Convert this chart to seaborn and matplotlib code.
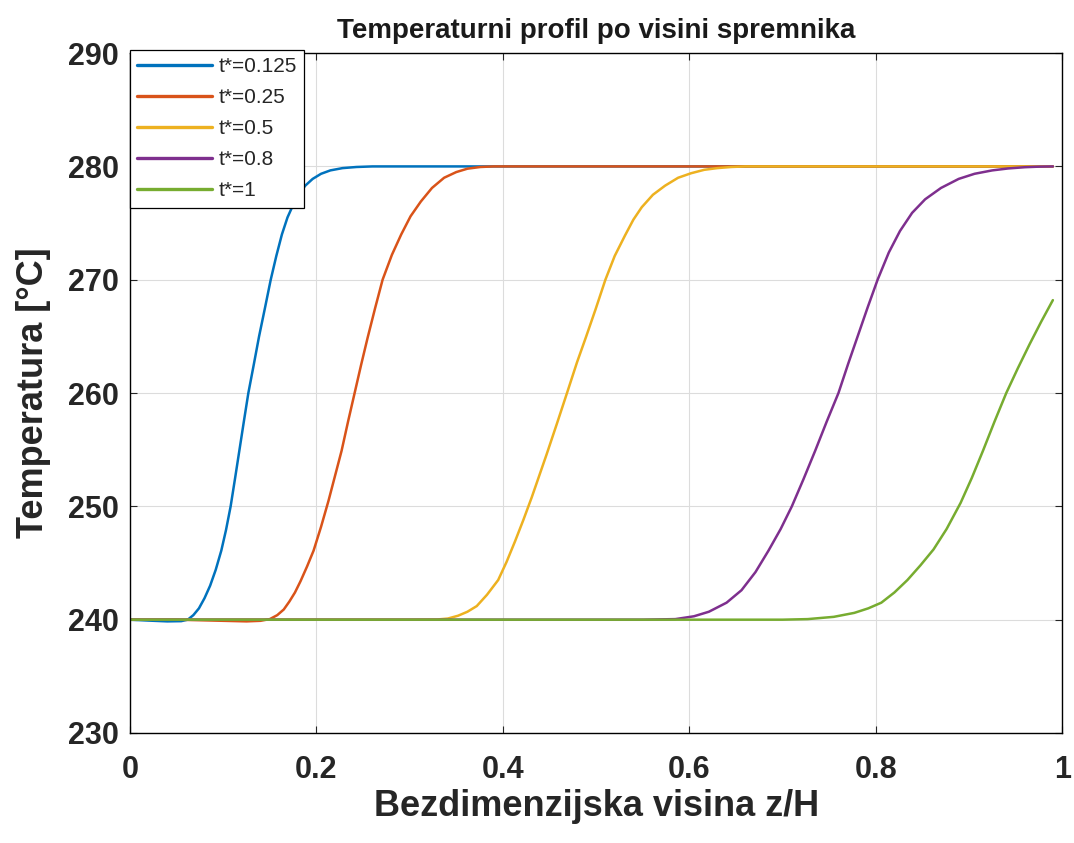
import numpy as np
import pandas as pd
import matplotlib
matplotlib.use("Agg")
import matplotlib.pyplot as plt
import seaborn as sns

# values
x_0125 = [0, 0.02, 0.04, 0.055, 0.062, 0.068, 0.074, 0.08, 0.086, 0.092, 0.098, 0.103,
          0.108, 0.1128, 0.1175, 0.1222, 0.127, 0.1328, 0.1385, 0.1448, 0.151, 0.157, 0.163,
          0.169, 0.175, 0.181, 0.188, 0.196, 0.205, 0.215, 0.228, 0.243, 0.26, 0.3, 0.99]
T_0125 = [240, 239.92, 239.85, 239.87, 240.0, 240.4, 241.0, 241.9, 243.0, 244.4, 246.1, 247.9,
          250, 252.5, 255, 257.5, 260, 262.5, 265, 267.5, 270, 272.1, 274,
          275.5, 276.6, 277.5, 278.3, 278.9, 279.35, 279.65, 279.85, 279.95, 280, 280, 280]

x_025 = [0, 0.05, 0.1, 0.125, 0.14, 0.15, 0.158, 0.165, 0.171, 0.177, 0.183, 0.19, 0.197,
         0.205, 0.213, 0.22, 0.227, 0.234, 0.241, 0.248, 0.255, 0.263, 0.271, 0.281, 0.291,
         0.301, 0.312, 0.324, 0.337, 0.35, 0.362, 0.376, 0.39, 0.45, 0.99]
T_025 = [240, 240, 239.9, 239.85, 239.9, 240.05, 240.4, 240.9, 241.6, 242.4, 243.4, 244.7, 246.1,
         248.2, 250.5, 252.7, 254.9, 257.5, 260, 262.5, 264.9, 267.5, 270, 272.2, 274,
         275.6, 276.9, 278.1, 279, 279.5, 279.8, 279.95, 280, 280, 280]

x_05 = [0, 0.3, 0.33, 0.341, 0.352, 0.362, 0.372, 0.383, 0.395, 0.404, 0.413, 0.422, 0.431,
        0.439, 0.447, 0.458, 0.47, 0.4795, 0.489, 0.4995, 0.51, 0.52, 0.531, 0.54, 0.549,
        0.561, 0.574, 0.588, 0.602, 0.616, 0.63, 0.645, 0.66, 0.99]
T_05 = [240, 240, 240.02, 240.1, 240.35, 240.7, 241.2, 242.2, 243.5, 245.1, 246.9, 248.8, 250.8,
        252.7, 254.6, 257.3, 260.3, 262.7, 264.9, 267.4, 270, 272.1, 273.9, 275.3, 276.4,
        277.5, 278.3, 279.0, 279.4, 279.7, 279.85, 279.95, 280, 280]

x_08 = [0, 0.55, 0.585, 0.605, 0.621, 0.64, 0.656, 0.671, 0.685, 0.698, 0.71, 0.7225, 0.735,
        0.7475, 0.76, 0.7705, 0.781, 0.7915, 0.802, 0.814, 0.826, 0.839, 0.853, 0.87, 0.889,
        0.906, 0.925, 0.942, 0.96, 0.975, 0.99]
T_08 = [240, 240, 240.05, 240.3, 240.7, 241.5, 242.6, 244.2, 246.1, 248.0, 250, 252.4, 254.9,
        257.5, 260, 262.6, 265.1, 267.6, 270, 272.4, 274.3, 275.9, 277.1, 278.1, 278.9,
        279.35, 279.65, 279.82, 279.93, 279.98, 280]

x_1 = [0, 0.7, 0.727, 0.755, 0.777, 0.792, 0.806, 0.82, 0.834, 0.848, 0.862, 0.876, 0.891,
       0.903, 0.915, 0.9275, 0.94, 0.9525, 0.965, 0.9775, 0.99]
T_1 = [240, 240, 240.05, 240.25, 240.6, 241.0, 241.5, 242.4, 243.5, 244.8, 246.2, 248.0, 250.3,
       252.5, 254.9, 257.5, 260, 262.2, 264.3, 266.3, 268.2]

labels = ["t*=0.125", "t*=0.25", "t*=0.5", "t*=0.8", "t*=1"]
colors = ["#0072BD", "#D95319", "#EDB120", "#7E2F8E", "#77AC30"]

series = [(x_0125, T_0125), (x_025, T_025), (x_05, T_05), (x_08, T_08), (x_1, T_1)]
frames = []
for lab, (xs, ts) in zip(labels, series):
    frames.append(pd.DataFrame({"z": xs, "T": ts, "t": lab}))
df = pd.concat(frames, ignore_index=True)

sns.set_theme(style="whitegrid")
plt.rcParams["font.family"] = ["Liberation Sans", "DejaVu Sans"]

fig = plt.figure(figsize=(10.74, 8.43), dpi=100)
ax = fig.add_axes([0.121, 0.1305, 0.868, 0.8065])

sns.lineplot(data=df, x="z", y="T", hue="t", hue_order=labels, palette=colors,
             estimator=None, sort=False, linewidth=1.8, ax=ax)

ax.set_xlim(0, 1)
ax.set_ylim(230, 290)
ax.set_xticks([0, 0.2, 0.4, 0.6, 0.8, 1])
ax.set_xticklabels(["0", "0.2", "0.4", "0.6", "0.8", "1"])
ax.set_yticks(range(230, 291, 10))

ax.grid(True, color="#dcdcdc", linewidth=0.8)
ax.set_facecolor("white")
for s in ax.spines.values():
    s.set_color("black")
    s.set_linewidth(1.0)

ax.tick_params(axis="both", which="both", direction="in", length=5, width=0.8,
               color="#262626", top=True, right=True, bottom=True, left=True,
               labelsize=22)
ax.tick_params(axis="x", pad=16)
ax.tick_params(axis="y", pad=8)
for lbl in ax.get_xticklabels() + ax.get_yticklabels():
    lbl.set_fontweight("bold")
    lbl.set_color("#262626")

ax.set_xlabel("Bezdimenzijska visina z/H", fontsize=26, fontweight="bold",
              color="#262626", labelpad=3)
ax.set_ylabel("Temperatura [°C]", fontsize=26, fontweight="bold",
              color="#262626", labelpad=12)
ax.set_title("Temperaturni profil po visini spremnika", fontsize=20,
             fontweight="bold", color="#1a1a1a", pad=11)

leg = ax.legend(loc="upper left", bbox_to_anchor=(0.0, 1.005), borderaxespad=0,
                fontsize=15, frameon=True, fancybox=False, handlelength=3.6,
                handletextpad=0.3, labelspacing=0.58, borderpad=0.35)
leg.get_frame().set_edgecolor("black")
leg.get_frame().set_linewidth(0.9)
leg.get_frame().set_alpha(1)
for line in leg.get_lines():
    line.set_linewidth(2.4)

fig.savefig("out.png", dpi=100)
